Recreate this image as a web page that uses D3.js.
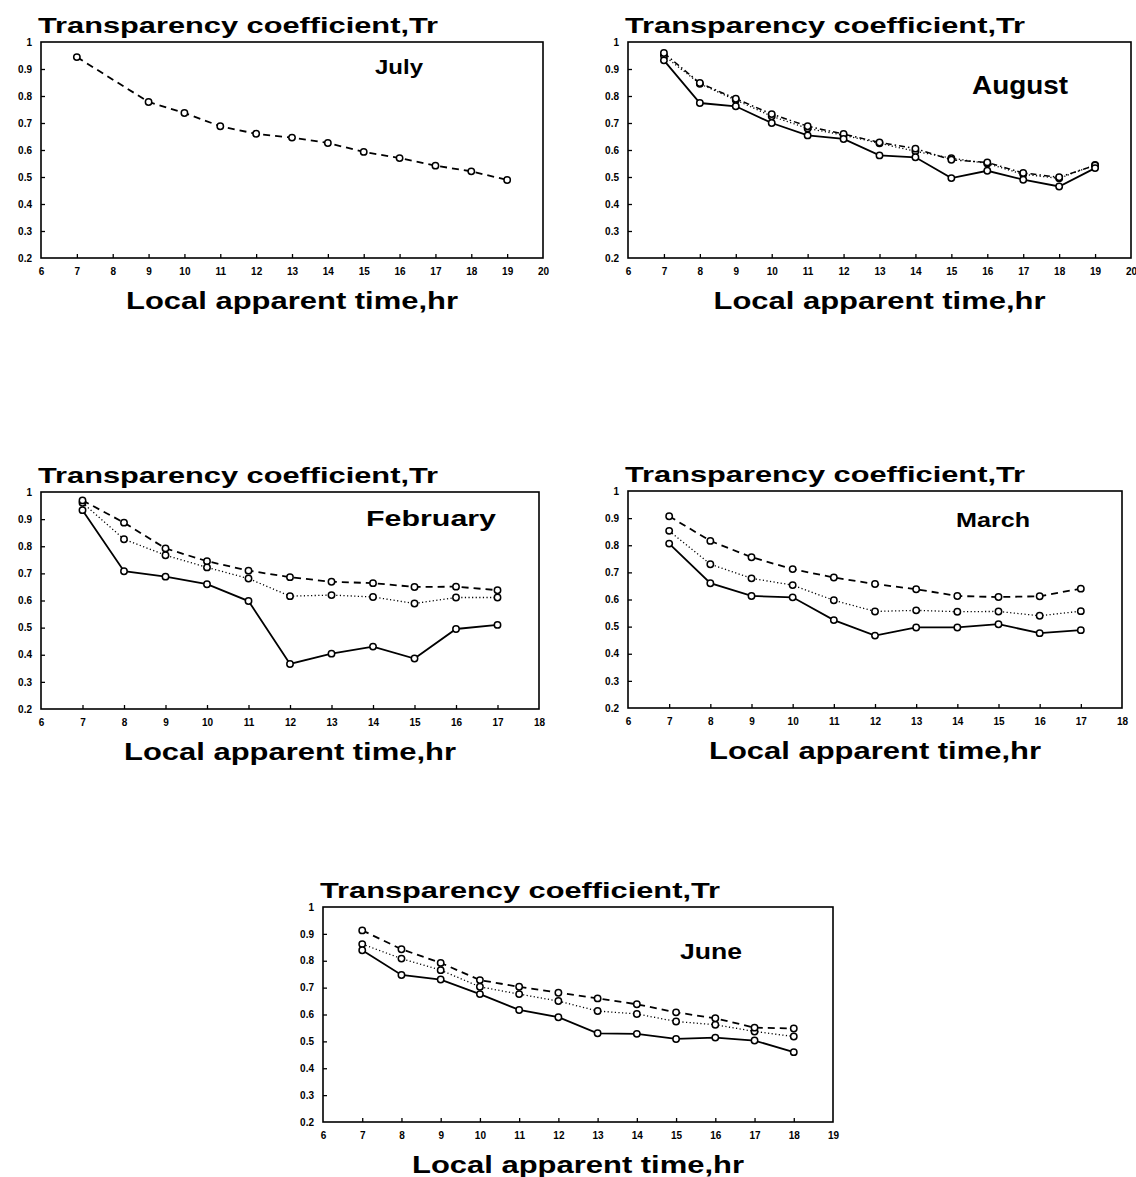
<!DOCTYPE html>
<html>
<head>
<meta charset="utf-8">
<script src="https://cdn.jsdelivr.net/npm/d3@7"></script>
<style>
  body { margin: 0; background: #fff; }
  svg { display: block; font-family: "Liberation Sans", Arial, sans-serif; }
</style>
</head>
<body>
<div id="chart"></div>
<script>
// hours on the x axis
const julyHours = [7, 9, 10, 11, 12, 13, 14, 15, 16, 17, 18, 19]
const augustHours = [7, 8, 9, 10, 11, 12, 13, 14, 15, 16, 17, 18, 19]
const winterHours = [7, 8, 9, 10, 11, 12, 13, 14, 15, 16, 17]
const juneHours = [7, 8, 9, 10, 11, 12, 13, 14, 15, 16, 17, 18]

// transparency coefficient Tr
const julyDashed = [0.944, 0.778, 0.737, 0.688, 0.660, 0.646, 0.626, 0.593, 0.570, 0.542, 0.521, 0.489]

const augustSolid = [0.932, 0.774, 0.762, 0.700, 0.654, 0.641, 0.580, 0.573, 0.496, 0.523, 0.490, 0.465, 0.533]
const augustDotted = [0.950, 0.845, 0.785, 0.725, 0.680, 0.655, 0.625, 0.595, 0.570, 0.550, 0.510, 0.495, 0.545]
const augustDashDot = [0.959, 0.848, 0.790, 0.733, 0.688, 0.659, 0.628, 0.605, 0.564, 0.554, 0.515, 0.499, 0.543]

const februaryDashed = [0.969, 0.887, 0.792, 0.745, 0.710, 0.686, 0.669, 0.664, 0.650, 0.651, 0.638]
const februaryDotted = [0.960, 0.826, 0.767, 0.722, 0.681, 0.616, 0.620, 0.613, 0.589, 0.611, 0.611]
const februarySolid = [0.933, 0.708, 0.688, 0.660, 0.598, 0.366, 0.404, 0.430, 0.386, 0.495, 0.510]

const marchDashed = [0.907, 0.816, 0.756, 0.712, 0.681, 0.657, 0.638, 0.613, 0.609, 0.612, 0.640]
const marchDotted = [0.853, 0.730, 0.678, 0.653, 0.597, 0.556, 0.560, 0.555, 0.556, 0.540, 0.557]
const marchSolid = [0.806, 0.660, 0.613, 0.608, 0.524, 0.467, 0.497, 0.497, 0.509, 0.476, 0.487]

const juneDashed = [0.913, 0.843, 0.792, 0.728, 0.703, 0.681, 0.660, 0.638, 0.608, 0.586, 0.551, 0.548]
const juneDotted = [0.862, 0.808, 0.765, 0.703, 0.676, 0.650, 0.613, 0.602, 0.574, 0.562, 0.537, 0.518]
const juneSolid = [0.839, 0.747, 0.730, 0.676, 0.617, 0.590, 0.530, 0.528, 0.509, 0.514, 0.503, 0.460]

const yTicks = [0.2, 0.3, 0.4, 0.5, 0.6, 0.7, 0.8, 0.9, 1]
const yTitle = "Transparency coefficient,Tr"
const xTitle = "Local apparent time,hr"

const width = 1136
const height = 1177

// line looks
const styles = {
    solid: { dash: null, width: 1.8 },
    dashed: { dash: "7,5", width: 1.8 },
    dotted: { dash: "1.2,2.4", width: 1.3 },
    dashdot: { dash: "6,3,1.5,3", width: 1.5 }
}

const panels = [
    { month: "July", left: 41, right: 543, top: 42, bottom: 258, xMax: 20,
      mx: 375, my: 74, mw: 48, ms: 20,
      series: [{ x: julyHours, y: julyDashed, style: "dashed" }] },
    { month: "August", left: 628, right: 1131, top: 42, bottom: 258, xMax: 20,
      mx: 972, my: 94, mw: 96, ms: 25,
      series: [{ x: augustHours, y: augustDotted, style: "dotted" },
               { x: augustHours, y: augustDashDot, style: "dashdot" },
               { x: augustHours, y: augustSolid, style: "solid" }] },
    { month: "February", left: 41, right: 539, top: 492, bottom: 709, xMax: 18,
      mx: 366, my: 526, mw: 130, ms: 22,
      series: [{ x: winterHours, y: februaryDotted, style: "dotted" },
               { x: winterHours, y: februaryDashed, style: "dashed" },
               { x: winterHours, y: februarySolid, style: "solid" }] },
    { month: "March", left: 628, right: 1122, top: 491, bottom: 708, xMax: 18,
      mx: 956, my: 527, mw: 74, ms: 20,
      series: [{ x: winterHours, y: marchDotted, style: "dotted" },
               { x: winterHours, y: marchDashed, style: "dashed" },
               { x: winterHours, y: marchSolid, style: "solid" }] },
    { month: "June", left: 323, right: 833, top: 907, bottom: 1122, xMax: 19,
      mx: 680, my: 959, mw: 62, ms: 22,
      series: [{ x: juneHours, y: juneDotted, style: "dotted" },
               { x: juneHours, y: juneDashed, style: "dashed" },
               { x: juneHours, y: juneSolid, style: "solid" }] }
]

const svg = d3.select('#chart')
    .append('svg')
        .attr('width', width)
        .attr('height', height)

panels.forEach(p => {
    const xScale = d3.scaleLinear().domain([6, p.xMax]).range([p.left, p.right])
    const yScale = d3.scaleLinear().domain([0.2, 1]).range([p.bottom, p.top])
    const g = svg.append('g')

    // frame
    g.append('rect')
        .attr('x', p.left)
        .attr('y', p.top)
        .attr('width', p.right - p.left)
        .attr('height', p.bottom - p.top)
        .attr('fill', 'none')
        .attr('stroke', '#000')
        .attr('stroke-width', 1.6)

    // axes, ticks pointing inward
    const xAxis = g.append('g')
        .attr('transform', 'translate(0,' + p.bottom + ')')
        .call(d3.axisBottom(xScale)
            .tickValues(d3.range(6, p.xMax + 1))
            .tickSize(-4)
            .tickPadding(10)
            .tickFormat(d3.format('d')))
    const yAxis = g.append('g')
        .attr('transform', 'translate(' + p.left + ',0)')
        .call(d3.axisLeft(yScale)
            .tickValues(yTicks)
            .tickSize(-4)
            .tickPadding(9)
            .tickFormat(d => d === 1 ? '1' : d.toFixed(1)))
    ;[xAxis, yAxis].forEach(a => {
        a.select('.domain').remove()
        a.selectAll('line').attr('stroke', '#000').attr('stroke-width', 1.3)
        a.selectAll('text')
            .attr('fill', '#000')
            .attr('font-size', 10)
            .attr('font-weight', 'bold')
            .attr('font-family', '"Liberation Sans", Arial, sans-serif')
    })
    xAxis.selectAll('g.tick').filter(d => d === 6 || d === p.xMax).select('line').remove()
    yAxis.selectAll('g.tick').filter(d => d === 0.2 || d === 1).select('line').remove()

    // titles
    g.append('text')
        .attr('x', p.left - 3)
        .attr('y', p.top - 9)
        .attr('font-size', 22)
        .attr('font-weight', 'bold')
        .attr('textLength', 400)
        .attr('lengthAdjust', 'spacingAndGlyphs')
        .text(yTitle)

    g.append('text')
        .attr('x', (p.left + p.right) / 2)
        .attr('y', p.bottom + 51)
        .attr('text-anchor', 'middle')
        .attr('font-size', 24)
        .attr('font-weight', 'bold')
        .attr('textLength', 332)
        .attr('lengthAdjust', 'spacingAndGlyphs')
        .text(xTitle)

    g.append('text')
        .attr('x', p.mx)
        .attr('y', p.my)
        .attr('font-size', p.ms)
        .attr('font-weight', 'bold')
        .attr('textLength', p.mw)
        .attr('lengthAdjust', 'spacingAndGlyphs')
        .text(p.month)

    // series
    p.series.forEach(s => {
        const pts = s.x.map((h, i) => ({ h: h, v: s.y[i] }))
        const st = styles[s.style]
        const line = d3.line().x(d => xScale(d.h)).y(d => yScale(d.v))
        g.append('path')
            .datum(pts)
            .attr('d', line)
            .attr('fill', 'none')
            .attr('stroke', '#000')
            .attr('stroke-width', st.width)
            .attr('stroke-dasharray', st.dash)
        g.selectAll(null)
            .data(pts)
            .enter()
            .append('circle')
                .attr('cx', d => xScale(d.h))
                .attr('cy', d => yScale(d.v))
                .attr('r', 3.2)
                .attr('fill', '#fff')
                .attr('stroke', '#000')
                .attr('stroke-width', 1.5)
    })
})
</script>
</body>
</html>
